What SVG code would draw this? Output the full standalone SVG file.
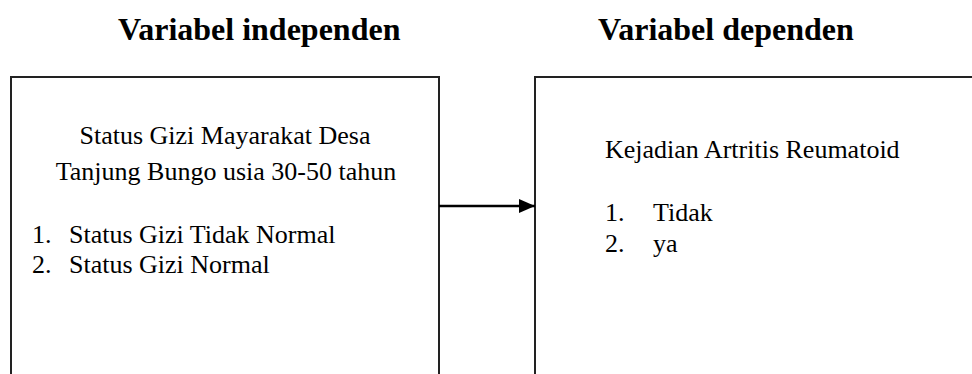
<svg xmlns="http://www.w3.org/2000/svg" width="972" height="374" viewBox="0 0 972 374">
<style>
.box{fill:#fff;stroke:#222;stroke-width:2}
.body{font-family:"Liberation Serif","Times New Roman",Times,"DejaVu Serif",serif;font-size:26px;font-weight:normal;font-style:normal;fill:#000}
.head{font-family:"Liberation Serif","Times New Roman",Times,"DejaVu Serif",serif;font-size:32px;font-weight:bold;fill:#000}
.conn{stroke:#000;stroke-width:2.5;fill:none}
</style>
<defs>
<marker id="arr" markerUnits="userSpaceOnUse" markerWidth="16" markerHeight="14" refX="16" refY="7" orient="auto">
<path d="M0,0 L16,7 L0,14 Z" fill="#000"/>
</marker>
</defs>
<rect width="972" height="374" fill="#fff"/>
<text class="head" x="118" y="40">Variabel independen</text>
<text class="head" x="598" y="40">Variabel dependen</text>
<g id="independen">
<rect class="box" x="11" y="77" width="428" height="310"/>
<text class="body" x="225" y="144" text-anchor="middle">Status Gizi Mayarakat Desa</text>
<text class="body" x="226" y="180" text-anchor="middle">Tanjung Bungo usia 30-50 tahun</text>
<text class="body" x="32" y="243">1.</text>
<text class="body" x="69" y="243">Status Gizi Tidak Normal</text>
<text class="body" x="32" y="273">2.</text>
<text class="body" x="69" y="273">Status Gizi Normal</text>
</g>
<g id="dependen">
<rect class="box" x="535" y="77" width="460" height="310"/>
<text class="body" x="605" y="158">Kejadian Artritis Reumatoid</text>
<text class="body" x="605" y="221">1.</text>
<text class="body" x="653" y="221">Tidak</text>
<text class="body" x="605" y="252">2.</text>
<text class="body" x="653" y="252">ya</text>
</g>
<g id="connectors">
<line class="conn" x1="439" y1="206" x2="535" y2="206" marker-end="url(#arr)"/>
</g>
</svg>
